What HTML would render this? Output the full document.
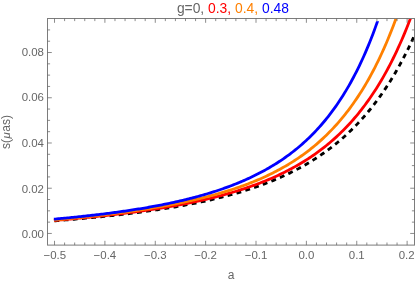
<!DOCTYPE html>
<html><head><meta charset="utf-8"><title>plot</title>
<style>html,body{margin:0;padding:0;background:#fff;}body{width:415px;height:282px;overflow:hidden;position:relative;font-family:"Liberation Sans",sans-serif;}</style>
</head><body>
<svg width="415" height="282" viewBox="0 0 415 282" style="display:block;position:absolute;left:0;top:0;will-change:transform">
<defs><clipPath id="c"><rect x="47.5" y="18.5" width="367" height="226.6"/></clipPath><clipPath id="cb"><rect x="47.5" y="21.3" width="367" height="223.8"/></clipPath></defs>
<rect width="415" height="282" fill="#fff"/>
<g clip-path="url(#c)" fill="none" stroke-linejoin="round">
<path d="M53.90 220.90 L55.57 220.77 L57.24 220.64 L58.92 220.51 L60.59 220.38 L62.26 220.24 L63.93 220.11 L65.60 219.97 L67.27 219.84 L68.95 219.70 L70.62 219.56 L72.29 219.42 L73.96 219.27 L75.63 219.13 L77.30 218.98 L78.98 218.83 L80.65 218.69 L82.32 218.53 L83.99 218.38 L85.66 218.23 L87.33 218.07 L89.01 217.92 L90.68 217.76 L92.35 217.60 L94.02 217.44 L95.69 217.27 L97.36 217.11 L99.04 216.94 L100.71 216.77 L102.38 216.60 L104.05 216.43 L105.72 216.26 L107.39 216.08 L109.07 215.90 L110.74 215.72 L112.41 215.54 L114.08 215.36 L115.75 215.17 L117.42 214.98 L119.10 214.79 L120.77 214.60 L122.44 214.40 L124.11 214.21 L125.78 214.01 L127.45 213.81 L129.13 213.60 L130.80 213.40 L132.47 213.19 L134.14 212.98 L135.81 212.76 L137.48 212.55 L139.16 212.33 L140.83 212.11 L142.50 211.89 L144.17 211.66 L145.84 211.43 L147.51 211.20 L149.19 210.96 L150.86 210.73 L152.53 210.48 L154.20 210.24 L155.87 209.99 L157.54 209.75 L159.22 209.49 L160.89 209.24 L162.56 208.98 L164.23 208.72 L165.90 208.45 L167.57 208.18 L169.25 207.91 L170.92 207.63 L172.59 207.35 L174.26 207.07 L175.93 206.78 L177.61 206.49 L179.28 206.20 L180.95 205.90 L182.62 205.59 L184.29 205.29 L185.96 204.98 L187.64 204.66 L189.31 204.34 L190.98 204.02 L192.65 203.69 L194.32 203.36 L195.99 203.02 L197.67 202.68 L199.34 202.33 L201.01 201.98 L202.68 201.62 L204.35 201.26 L206.02 200.89 L207.70 200.52 L209.37 200.14 L211.04 199.76 L212.71 199.37 L214.38 198.98 L216.05 198.58 L217.73 198.17 L219.40 197.76 L221.07 197.34 L222.74 196.92 L224.41 196.49 L226.08 196.05 L227.76 195.61 L229.43 195.16 L231.10 194.70 L232.77 194.24 L234.44 193.77 L236.11 193.29 L237.79 192.80 L239.46 192.31 L241.13 191.81 L242.80 191.30 L244.47 190.78 L246.14 190.26 L247.82 189.73 L249.49 189.18 L251.16 188.63 L252.83 188.07 L254.50 187.51 L256.17 186.93 L257.85 186.34 L259.52 185.75 L261.19 185.14 L262.86 184.52 L264.53 183.90 L266.20 183.26 L267.88 182.61 L269.55 181.95 L271.22 181.29 L272.89 180.61 L274.56 179.91 L276.23 179.21 L277.91 178.49 L279.58 177.77 L281.25 177.02 L282.92 176.27 L284.59 175.50 L286.26 174.72 L287.94 173.93 L289.61 173.12 L291.28 172.30 L292.95 171.47 L294.62 170.61 L296.29 169.75 L297.97 168.87 L299.64 167.97 L301.31 167.05 L302.98 166.12 L304.65 165.18 L306.33 164.21 L308.00 163.23 L309.67 162.23 L311.34 161.21 L313.01 160.17 L314.68 159.11 L316.36 158.04 L318.03 156.94 L319.70 155.82 L321.37 154.68 L323.04 153.52 L324.71 152.33 L326.39 151.13 L328.06 149.90 L329.73 148.65 L331.40 147.37 L333.07 146.07 L334.74 144.74 L336.42 143.38 L338.09 142.00 L339.76 140.60 L341.43 139.16 L343.10 137.69 L344.77 136.20 L346.45 134.68 L348.12 133.12 L349.79 131.54 L351.46 129.92 L353.13 128.27 L354.80 126.58 L356.48 124.86 L358.15 123.10 L359.82 121.31 L361.49 119.48 L363.16 117.61 L364.83 115.71 L366.51 113.76 L368.18 111.77 L369.85 109.74 L371.52 107.67 L373.19 105.55 L374.86 103.39 L376.54 101.18 L378.21 98.92 L379.88 96.61 L381.55 94.25 L383.22 91.84 L384.89 89.38 L386.57 86.87 L388.24 84.29 L389.91 81.67 L391.58 78.98 L393.25 76.23 L394.92 73.42 L396.60 70.55 L398.27 67.61 L399.94 64.60 L401.61 61.53 L403.28 58.38 L404.95 55.17 L406.63 51.88 L408.30 48.51 L409.97 45.06 L411.64 41.54 L413.31 37.93 L414.98 34.23 L416.66 30.45 L418.33 26.58 L420.00 22.62" stroke="#000000" stroke-width="2.8" stroke-dasharray="4.9 4.33" stroke-dashoffset="-0.4"/>
<path d="M53.90 220.44 L55.57 220.31 L57.24 220.17 L58.92 220.03 L60.59 219.88 L62.26 219.74 L63.93 219.60 L65.60 219.45 L67.27 219.30 L68.95 219.16 L70.62 219.01 L72.29 218.85 L73.96 218.70 L75.63 218.55 L77.30 218.39 L78.98 218.23 L80.65 218.07 L82.32 217.91 L83.99 217.75 L85.66 217.59 L87.33 217.42 L89.01 217.26 L90.68 217.09 L92.35 216.92 L94.02 216.75 L95.69 216.57 L97.36 216.40 L99.04 216.22 L100.71 216.04 L102.38 215.86 L104.05 215.68 L105.72 215.49 L107.39 215.31 L109.07 215.12 L110.74 214.93 L112.41 214.73 L114.08 214.54 L115.75 214.34 L117.42 214.14 L119.10 213.94 L120.77 213.74 L122.44 213.53 L124.11 213.32 L125.78 213.11 L127.45 212.90 L129.13 212.69 L130.80 212.47 L132.47 212.25 L134.14 212.03 L135.81 211.80 L137.48 211.57 L139.16 211.34 L140.83 211.11 L142.50 210.87 L144.17 210.63 L145.84 210.39 L147.51 210.15 L149.19 209.90 L150.86 209.65 L152.53 209.40 L154.20 209.14 L155.87 208.88 L157.54 208.62 L159.22 208.35 L160.89 208.08 L162.56 207.81 L164.23 207.53 L165.90 207.25 L167.57 206.97 L169.25 206.68 L170.92 206.39 L172.59 206.10 L174.26 205.80 L175.93 205.50 L177.61 205.19 L179.28 204.88 L180.95 204.57 L182.62 204.25 L184.29 203.92 L185.96 203.60 L187.64 203.26 L189.31 202.93 L190.98 202.59 L192.65 202.24 L194.32 201.89 L195.99 201.53 L197.67 201.17 L199.34 200.81 L201.01 200.44 L202.68 200.06 L204.35 199.68 L206.02 199.29 L207.70 198.90 L209.37 198.50 L211.04 198.09 L212.71 197.68 L214.38 197.27 L216.05 196.84 L217.73 196.42 L219.40 195.98 L221.07 195.54 L222.74 195.09 L224.41 194.63 L226.08 194.17 L227.76 193.70 L229.43 193.22 L231.10 192.74 L232.77 192.25 L234.44 191.75 L236.11 191.24 L237.79 190.72 L239.46 190.20 L241.13 189.67 L242.80 189.13 L244.47 188.58 L246.14 188.02 L247.82 187.45 L249.49 186.87 L251.16 186.28 L252.83 185.69 L254.50 185.08 L256.17 184.46 L257.85 183.84 L259.52 183.20 L261.19 182.55 L262.86 181.89 L264.53 181.22 L266.20 180.54 L267.88 179.84 L269.55 179.14 L271.22 178.42 L272.89 177.69 L274.56 176.94 L276.23 176.18 L277.91 175.41 L279.58 174.63 L281.25 173.83 L282.92 173.02 L284.59 172.19 L286.26 171.34 L287.94 170.49 L289.61 169.61 L291.28 168.72 L292.95 167.81 L294.62 166.89 L296.29 165.95 L297.97 164.99 L299.64 164.01 L301.31 163.02 L302.98 162.00 L304.65 160.97 L306.33 159.91 L308.00 158.84 L309.67 157.74 L311.34 156.62 L313.01 155.48 L314.68 154.32 L316.36 153.13 L318.03 151.92 L319.70 150.69 L321.37 149.43 L323.04 148.14 L324.71 146.83 L326.39 145.49 L328.06 144.12 L329.73 142.72 L331.40 141.30 L333.07 139.84 L334.74 138.36 L336.42 136.84 L338.09 135.29 L339.76 133.70 L341.43 132.08 L343.10 130.43 L344.77 128.74 L346.45 127.01 L348.12 125.24 L349.79 123.44 L351.46 121.59 L353.13 119.70 L354.80 117.77 L356.48 115.80 L358.15 113.78 L359.82 111.71 L361.49 109.59 L363.16 107.43 L364.83 105.22 L366.51 102.95 L368.18 100.63 L369.85 98.26 L371.52 95.83 L373.19 93.34 L374.86 90.79 L376.54 88.18 L378.21 85.50 L379.88 82.76 L381.55 79.96 L383.22 77.08 L384.89 74.13 L386.57 71.11 L388.24 68.02 L389.91 64.84 L391.58 61.59 L393.25 58.25 L394.92 54.83 L396.60 51.31 L398.27 47.71 L399.94 44.02 L401.61 40.23 L403.28 36.34 L404.95 32.34 L406.63 28.24 L408.30 24.04 L409.97 19.72 L411.64 15.28 L413.31 10.72 L414.98 6.04 L416.66 1.24 L418.33 -3.70 L420.00 -8.78" stroke="#ff0000" stroke-width="2.8"/>
<path d="M53.90 220.05 L55.57 219.89 L57.24 219.74 L58.92 219.58 L60.59 219.42 L62.26 219.27 L63.93 219.11 L65.60 218.94 L67.27 218.78 L68.95 218.62 L70.62 218.45 L72.29 218.29 L73.96 218.12 L75.63 217.95 L77.30 217.77 L78.98 217.60 L80.65 217.43 L82.32 217.25 L83.99 217.07 L85.66 216.89 L87.33 216.71 L89.01 216.53 L90.68 216.34 L92.35 216.16 L94.02 215.97 L95.69 215.78 L97.36 215.59 L99.04 215.39 L100.71 215.20 L102.38 215.00 L104.05 214.80 L105.72 214.60 L107.39 214.39 L109.07 214.19 L110.74 213.98 L112.41 213.77 L114.08 213.56 L115.75 213.34 L117.42 213.13 L119.10 212.91 L120.77 212.69 L122.44 212.46 L124.11 212.24 L125.78 212.01 L127.45 211.78 L129.13 211.54 L130.80 211.31 L132.47 211.07 L134.14 210.83 L135.81 210.58 L137.48 210.34 L139.16 210.09 L140.83 209.84 L142.50 209.58 L144.17 209.32 L145.84 209.06 L147.51 208.80 L149.19 208.53 L150.86 208.26 L152.53 207.98 L154.20 207.70 L155.87 207.42 L157.54 207.14 L159.22 206.85 L160.89 206.56 L162.56 206.26 L164.23 205.96 L165.90 205.66 L167.57 205.35 L169.25 205.04 L170.92 204.73 L172.59 204.41 L174.26 204.09 L175.93 203.76 L177.61 203.43 L179.28 203.09 L180.95 202.75 L182.62 202.40 L184.29 202.05 L185.96 201.70 L187.64 201.34 L189.31 200.97 L190.98 200.60 L192.65 200.22 L194.32 199.84 L195.99 199.46 L197.67 199.06 L199.34 198.67 L201.01 198.26 L202.68 197.85 L204.35 197.43 L206.02 197.01 L207.70 196.58 L209.37 196.15 L211.04 195.70 L212.71 195.26 L214.38 194.80 L216.05 194.34 L217.73 193.87 L219.40 193.39 L221.07 192.90 L222.74 192.41 L224.41 191.91 L226.08 191.40 L227.76 190.88 L229.43 190.35 L231.10 189.82 L232.77 189.27 L234.44 188.72 L236.11 188.16 L237.79 187.59 L239.46 187.01 L241.13 186.41 L242.80 185.81 L244.47 185.20 L246.14 184.58 L247.82 183.94 L249.49 183.30 L251.16 182.64 L252.83 181.97 L254.50 181.29 L256.17 180.60 L257.85 179.90 L259.52 179.18 L261.19 178.45 L262.86 177.70 L264.53 176.95 L266.20 176.17 L267.88 175.39 L269.55 174.59 L271.22 173.77 L272.89 172.94 L274.56 172.09 L276.23 171.22 L277.91 170.34 L279.58 169.44 L281.25 168.53 L282.92 167.59 L284.59 166.64 L286.26 165.67 L287.94 164.68 L289.61 163.67 L291.28 162.63 L292.95 161.58 L294.62 160.51 L296.29 159.41 L297.97 158.29 L299.64 157.15 L301.31 155.98 L302.98 154.79 L304.65 153.58 L306.33 152.34 L308.00 151.07 L309.67 149.78 L311.34 148.45 L313.01 147.10 L314.68 145.72 L316.36 144.31 L318.03 142.87 L319.70 141.40 L321.37 139.89 L323.04 138.35 L324.71 136.78 L326.39 135.17 L328.06 133.53 L329.73 131.84 L331.40 130.12 L333.07 128.36 L334.74 126.56 L336.42 124.72 L338.09 122.83 L339.76 120.90 L341.43 118.92 L343.10 116.90 L344.77 114.83 L346.45 112.71 L348.12 110.54 L349.79 108.32 L351.46 106.04 L353.13 103.71 L354.80 101.32 L356.48 98.87 L358.15 96.36 L359.82 93.79 L361.49 91.15 L363.16 88.45 L364.83 85.68 L366.51 82.85 L368.18 79.93 L369.85 76.95 L371.52 73.89 L373.19 70.74 L374.86 67.52 L376.54 64.21 L378.21 60.82 L379.88 57.34 L381.55 53.76 L383.22 50.09 L384.89 46.32 L386.57 42.46 L388.24 38.48 L389.91 34.40 L391.58 30.21 L393.25 25.90 L394.92 21.48 L396.60 16.93 L398.27 12.26 L399.94 7.46 L401.61 2.52 L403.28 -2.56 L404.95 -7.78 L406.63 -13.15 L408.30 -18.67 L409.97 -24.35 L411.64 -30.19 L413.31 -36.21 L414.98 -42.39 L416.66 -48.76 L418.33 -55.32 L420.00 -62.07" stroke="#ff8000" stroke-width="2.8"/>
<path d="M53.90 219.16 L55.38 219.02 L56.87 218.89 L58.35 218.76 L59.83 218.62 L61.31 218.48 L62.80 218.34 L64.28 218.20 L65.76 218.06 L67.24 217.92 L68.73 217.77 L70.21 217.63 L71.69 217.48 L73.17 217.33 L74.66 217.18 L76.14 217.03 L77.62 216.88 L79.11 216.72 L80.59 216.57 L82.07 216.41 L83.55 216.25 L85.04 216.09 L86.52 215.93 L88.00 215.76 L89.48 215.60 L90.97 215.43 L92.45 215.26 L93.93 215.09 L95.41 214.92 L96.90 214.74 L98.38 214.57 L99.86 214.39 L101.34 214.21 L102.83 214.03 L104.31 213.84 L105.79 213.66 L107.28 213.47 L108.76 213.28 L110.24 213.09 L111.72 212.89 L113.21 212.70 L114.69 212.50 L116.17 212.30 L117.65 212.09 L119.14 211.89 L120.62 211.68 L122.10 211.47 L123.58 211.26 L125.07 211.05 L126.55 210.83 L128.03 210.61 L129.52 210.39 L131.00 210.16 L132.48 209.93 L133.96 209.70 L135.45 209.47 L136.93 209.24 L138.41 209.00 L139.89 208.76 L141.38 208.51 L142.86 208.27 L144.34 208.01 L145.82 207.76 L147.31 207.51 L148.79 207.25 L150.27 206.98 L151.75 206.72 L153.24 206.45 L154.72 206.18 L156.20 205.90 L157.69 205.62 L159.17 205.34 L160.65 205.05 L162.13 204.76 L163.62 204.47 L165.10 204.17 L166.58 203.87 L168.06 203.56 L169.55 203.25 L171.03 202.94 L172.51 202.62 L173.99 202.30 L175.48 201.97 L176.96 201.64 L178.44 201.30 L179.93 200.96 L181.41 200.62 L182.89 200.27 L184.37 199.92 L185.86 199.56 L187.34 199.19 L188.82 198.83 L190.30 198.45 L191.79 198.07 L193.27 197.69 L194.75 197.30 L196.23 196.90 L197.72 196.50 L199.20 196.09 L200.68 195.68 L202.16 195.26 L203.65 194.84 L205.13 194.41 L206.61 193.97 L208.10 193.53 L209.58 193.08 L211.06 192.62 L212.54 192.16 L214.03 191.69 L215.51 191.21 L216.99 190.72 L218.47 190.23 L219.96 189.73 L221.44 189.22 L222.92 188.71 L224.40 188.19 L225.89 187.66 L227.37 187.12 L228.85 186.57 L230.34 186.01 L231.82 185.45 L233.30 184.87 L234.78 184.29 L236.27 183.70 L237.75 183.10 L239.23 182.49 L240.71 181.87 L242.20 181.24 L243.68 180.60 L245.16 179.94 L246.64 179.28 L248.13 178.61 L249.61 177.93 L251.09 177.23 L252.57 176.52 L254.06 175.81 L255.54 175.08 L257.02 174.33 L258.51 173.58 L259.99 172.81 L261.47 172.03 L262.95 171.24 L264.44 170.43 L265.92 169.61 L267.40 168.77 L268.88 167.92 L270.37 167.06 L271.85 166.17 L273.33 165.28 L274.81 164.37 L276.30 163.44 L277.78 162.49 L279.26 161.53 L280.75 160.55 L282.23 159.55 L283.71 158.53 L285.19 157.50 L286.68 156.44 L288.16 155.36 L289.64 154.27 L291.12 153.15 L292.61 152.01 L294.09 150.85 L295.57 149.67 L297.05 148.46 L298.54 147.23 L300.02 145.98 L301.50 144.70 L302.98 143.39 L304.47 142.06 L305.95 140.70 L307.43 139.31 L308.92 137.90 L310.40 136.46 L311.88 134.98 L313.36 133.48 L314.85 131.94 L316.33 130.37 L317.81 128.77 L319.29 127.13 L320.78 125.46 L322.26 123.75 L323.74 122.01 L325.22 120.23 L326.71 118.41 L328.19 116.55 L329.67 114.64 L331.16 112.70 L332.64 110.71 L334.12 108.68 L335.60 106.60 L337.09 104.47 L338.57 102.29 L340.05 100.07 L341.53 97.79 L343.02 95.46 L344.50 93.08 L345.98 90.64 L347.46 88.14 L348.95 85.58 L350.43 82.96 L351.91 80.28 L353.39 77.53 L354.88 74.71 L356.36 71.82 L357.84 68.86 L359.33 65.83 L360.81 62.71 L362.29 59.52 L363.77 56.24 L365.26 52.87 L366.74 49.42 L368.22 45.87 L369.70 42.23 L371.19 38.48 L372.67 34.63 L374.15 30.67 L375.63 26.61 L377.12 22.42 L378.60 18.12" stroke="#0000ff" stroke-width="2.8" clip-path="url(#cb)"/>
</g>
<g stroke="#666666" stroke-width="0.75" fill="none">
<rect x="47.5" y="18.5" width="367" height="226.6" stroke-width="1" stroke="#7c7c7c"/>
<path d="M54.53 245.10 V240.80 M54.53 18.50 V22.80 M64.60 245.10 V242.50 M64.60 18.50 V21.10 M74.68 245.10 V242.50 M74.68 18.50 V21.10 M84.75 245.10 V242.50 M84.75 18.50 V21.10 M94.83 245.10 V242.50 M94.83 18.50 V21.10 M104.90 245.10 V240.80 M104.90 18.50 V22.80 M114.97 245.10 V242.50 M114.97 18.50 V21.10 M125.05 245.10 V242.50 M125.05 18.50 V21.10 M135.12 245.10 V242.50 M135.12 18.50 V21.10 M145.20 245.10 V242.50 M145.20 18.50 V21.10 M155.27 245.10 V240.80 M155.27 18.50 V22.80 M165.34 245.10 V242.50 M165.34 18.50 V21.10 M175.42 245.10 V242.50 M175.42 18.50 V21.10 M185.49 245.10 V242.50 M185.49 18.50 V21.10 M195.57 245.10 V242.50 M195.57 18.50 V21.10 M205.64 245.10 V240.80 M205.64 18.50 V22.80 M215.71 245.10 V242.50 M215.71 18.50 V21.10 M225.79 245.10 V242.50 M225.79 18.50 V21.10 M235.86 245.10 V242.50 M235.86 18.50 V21.10 M245.94 245.10 V242.50 M245.94 18.50 V21.10 M256.01 245.10 V240.80 M256.01 18.50 V22.80 M266.08 245.10 V242.50 M266.08 18.50 V21.10 M276.16 245.10 V242.50 M276.16 18.50 V21.10 M286.23 245.10 V242.50 M286.23 18.50 V21.10 M296.31 245.10 V242.50 M296.31 18.50 V21.10 M306.38 245.10 V240.80 M306.38 18.50 V22.80 M316.45 245.10 V242.50 M316.45 18.50 V21.10 M326.53 245.10 V242.50 M326.53 18.50 V21.10 M336.60 245.10 V242.50 M336.60 18.50 V21.10 M346.68 245.10 V242.50 M346.68 18.50 V21.10 M356.75 245.10 V240.80 M356.75 18.50 V22.80 M366.82 245.10 V242.50 M366.82 18.50 V21.10 M376.90 245.10 V242.50 M376.90 18.50 V21.10 M386.97 245.10 V242.50 M386.97 18.50 V21.10 M397.05 245.10 V242.50 M397.05 18.50 V21.10 M407.12 245.10 V240.80 M407.12 18.50 V22.80 M47.50 233.45 H51.80 M414.50 233.45 H410.20 M47.50 222.14 H50.10 M414.50 222.14 H411.90 M47.50 210.83 H50.10 M414.50 210.83 H411.90 M47.50 199.53 H50.10 M414.50 199.53 H411.90 M47.50 188.22 H51.80 M414.50 188.22 H410.20 M47.50 176.91 H50.10 M414.50 176.91 H411.90 M47.50 165.60 H50.10 M414.50 165.60 H411.90 M47.50 154.29 H50.10 M414.50 154.29 H411.90 M47.50 142.99 H51.80 M414.50 142.99 H410.20 M47.50 131.68 H50.10 M414.50 131.68 H411.90 M47.50 120.37 H50.10 M414.50 120.37 H411.90 M47.50 109.06 H50.10 M414.50 109.06 H411.90 M47.50 97.75 H51.80 M414.50 97.75 H410.20 M47.50 86.45 H50.10 M414.50 86.45 H411.90 M47.50 75.14 H50.10 M414.50 75.14 H411.90 M47.50 63.83 H50.10 M414.50 63.83 H411.90 M47.50 52.52 H51.80 M414.50 52.52 H410.20 M47.50 41.21 H50.10 M414.50 41.21 H411.90 M47.50 29.91 H50.10 M414.50 29.91 H411.90"/>
</g>
<g font-family="Liberation Sans, sans-serif" fill="#666666">
<g font-size="11.45" text-anchor="middle">
<text x="54.83" y="259">−0.5</text>
<text x="104.90" y="259">−0.4</text>
<text x="155.27" y="259">−0.3</text>
<text x="205.64" y="259">−0.2</text>
<text x="256.01" y="259">−0.1</text>
<text x="306.38" y="259">0.0</text>
<text x="356.75" y="259">0.1</text>
<text x="406.62" y="259">0.2</text>
</g>
<g font-size="11.45" text-anchor="end">
<text x="43.9" y="238.00">0.00</text>
<text x="43.9" y="192.50">0.02</text>
<text x="43.9" y="147.00">0.04</text>
<text x="43.9" y="101.30">0.06</text>
<text x="43.9" y="56.20">0.08</text>
</g>
<text x="231" y="278.5" font-size="12.0" text-anchor="middle">a</text>
<text transform="translate(9.9 132) rotate(-90)" font-size="12.0" text-anchor="middle">s(<tspan font-style="italic" font-size="11.4" dx="0.5">μ</tspan><tspan dx="0.6">as)</tspan></text>
<text x="176.9" y="12.5" font-size="13.85">g=0, <tspan fill="#ff0000">0.3, </tspan><tspan fill="#ff8000">0.4, </tspan><tspan fill="#0000ff">0.48</tspan></text>
</g>
</svg>
</body></html>
